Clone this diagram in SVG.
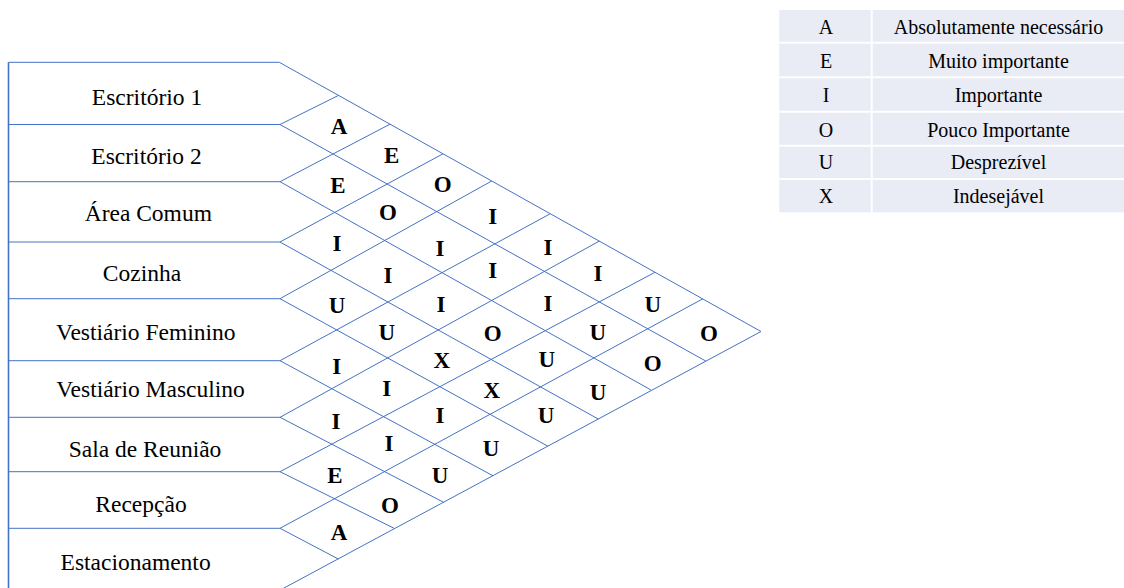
<svg xmlns="http://www.w3.org/2000/svg" width="1124" height="588" viewBox="0 0 1124 588">
<style>
.ln{stroke:#4472C4;stroke-width:1;fill:none}
.frame{stroke:#4472C4;stroke-width:1.6;fill:none}
.room{font-family:"Liberation Serif","Times New Roman",serif;font-size:23.5px;fill:#000;text-anchor:middle}
.rel{font-family:"Liberation Serif","Times New Roman",serif;font-size:23px;font-weight:bold;fill:#000;text-anchor:middle}
.lg{font-family:"Liberation Serif","Times New Roman",serif;font-size:20px;fill:#000;text-anchor:middle}
.lgbg{fill:#E9EBF5}
.lgsep{stroke:#FFFFFF;stroke-width:2}
</style>
<rect width="1124" height="588" fill="#FFFFFF"/>
<line class="frame" x1="8.5" y1="62.3" x2="8.5" y2="588"/>
<g id="room-escritorio1"><line class="ln" x1="8.5" y1="62.3" x2="279.3" y2="62.3"/><text class="room" x="147" y="105">Escritório 1</text></g>
<g id="room-escritorio2"><line class="ln" x1="8.5" y1="124.5" x2="280" y2="124.5"/><text class="room" x="146.5" y="164.3">Escritório 2</text></g>
<g id="room-area-comum"><line class="ln" x1="8.5" y1="181.7" x2="280" y2="181.7"/><text class="room" x="148.3" y="221">Área Comum</text></g>
<g id="room-cozinha"><line class="ln" x1="8.5" y1="242" x2="280" y2="242"/><text class="room" x="142" y="280.7">Cozinha</text></g>
<g id="room-vest-fem"><line class="ln" x1="8.5" y1="298.7" x2="280" y2="298.7"/><text class="room" x="145.8" y="340">Vestiário Feminino</text></g>
<g id="room-vest-masc"><line class="ln" x1="8.5" y1="360.7" x2="280" y2="360.7"/><text class="room" x="150.5" y="397.3">Vestiário Masculino</text></g>
<g id="room-sala-reuniao"><line class="ln" x1="8.5" y1="417.3" x2="280" y2="417.3"/><text class="room" x="145" y="456.7">Sala de Reunião</text></g>
<g id="room-recepcao"><line class="ln" x1="8.5" y1="471.7" x2="280" y2="471.7"/><text class="room" x="141" y="511.7">Recepção</text></g>
<g id="room-estacionamento"><line class="ln" x1="8.5" y1="528.3" x2="280" y2="528.3"/><text class="room" x="135.6" y="570">Estacionamento</text></g>
<g id="connectors">
<line class="ln" x1="279.3" y1="62.3" x2="761" y2="331.5"/>
<line class="ln" x1="280" y1="124.5" x2="705.7" y2="361"/>
<line class="ln" x1="280" y1="181.7" x2="651" y2="390"/>
<line class="ln" x1="280" y1="242" x2="598.4" y2="419.1"/>
<line class="ln" x1="280" y1="298.7" x2="547.9" y2="446.2"/>
<line class="ln" x1="280" y1="360.7" x2="493" y2="475.8"/>
<line class="ln" x1="280" y1="417.3" x2="443.6" y2="502.3"/>
<line class="ln" x1="280" y1="471.7" x2="394.5" y2="528.5"/>
<line class="ln" x1="280" y1="528.3" x2="338.3" y2="559"/>
<line class="ln" x1="280" y1="124.5" x2="338.3" y2="95.5"/>
<line class="ln" x1="280" y1="181.7" x2="390" y2="124.2"/>
<line class="ln" x1="280" y1="242" x2="443" y2="153.8"/>
<line class="ln" x1="280" y1="298.7" x2="491.7" y2="181"/>
<line class="ln" x1="280" y1="360.7" x2="550" y2="213.9"/>
<line class="ln" x1="280" y1="417.3" x2="599.3" y2="241.1"/>
<line class="ln" x1="280" y1="471.7" x2="655" y2="272.3"/>
<line class="ln" x1="280" y1="528.3" x2="702.7" y2="298.9"/>
<line class="ln" x1="279" y1="590.7" x2="761" y2="331.5"/>
</g>
<g id="relations">
<text class="rel" x="339" y="134">A</text>
<text class="rel" x="338" y="193">E</text>
<text class="rel" x="337" y="251">I</text>
<text class="rel" x="337" y="313">U</text>
<text class="rel" x="336.7" y="374">I</text>
<text class="rel" x="336" y="429">I</text>
<text class="rel" x="335" y="483">E</text>
<text class="rel" x="339" y="540">A</text>
<text class="rel" x="391.7" y="163">E</text>
<text class="rel" x="388" y="219.7">O</text>
<text class="rel" x="388" y="283">I</text>
<text class="rel" x="386.7" y="339.7">U</text>
<text class="rel" x="386.7" y="396">I</text>
<text class="rel" x="389" y="451">I</text>
<text class="rel" x="390" y="513">O</text>
<text class="rel" x="442.7" y="192.3">O</text>
<text class="rel" x="440" y="256">I</text>
<text class="rel" x="441" y="312">I</text>
<text class="rel" x="441.7" y="368">X</text>
<text class="rel" x="440" y="423">I</text>
<text class="rel" x="440" y="483">U</text>
<text class="rel" x="492.7" y="224">I</text>
<text class="rel" x="492.7" y="278">I</text>
<text class="rel" x="492.7" y="341.3">O</text>
<text class="rel" x="491.7" y="398">X</text>
<text class="rel" x="491" y="456">U</text>
<text class="rel" x="548" y="255">I</text>
<text class="rel" x="548" y="310.7">I</text>
<text class="rel" x="546.7" y="367">U</text>
<text class="rel" x="546" y="423">U</text>
<text class="rel" x="598" y="280.7">I</text>
<text class="rel" x="597.7" y="339.7">U</text>
<text class="rel" x="598" y="399.7">U</text>
<text class="rel" x="652.7" y="312">U</text>
<text class="rel" x="652.7" y="371">O</text>
<text class="rel" x="709" y="341">O</text>
</g>
<g id="legend">
<rect class="lgbg" x="779.3" y="10" width="344.7" height="202.3"/>
<line class="lgsep" x1="779.3" y1="42.7" x2="1124" y2="42.7"/>
<line class="lgsep" x1="779.3" y1="77.3" x2="1124" y2="77.3"/>
<line class="lgsep" x1="779.3" y1="111.7" x2="1124" y2="111.7"/>
<line class="lgsep" x1="779.3" y1="145.7" x2="1124" y2="145.7"/>
<line class="lgsep" x1="779.3" y1="179" x2="1124" y2="179"/>
<line class="lgsep" x1="871.7" y1="10" x2="871.7" y2="212.3"/>
<text class="lg" x="826" y="34.3">A</text><text class="lg" x="998.5" y="34.3">Absolutamente necessário</text>
<text class="lg" x="826" y="68.3">E</text><text class="lg" x="998.5" y="68.3">Muito importante</text>
<text class="lg" x="826" y="101.7">I</text><text class="lg" x="998.5" y="101.7">Importante</text>
<text class="lg" x="826" y="136.7">O</text><text class="lg" x="998.5" y="136.7">Pouco Importante</text>
<text class="lg" x="826" y="169.3">U</text><text class="lg" x="998.5" y="169.3">Desprezível</text>
<text class="lg" x="826" y="203.3">X</text><text class="lg" x="998.5" y="203.3">Indesejável</text>
</g>
</svg>
